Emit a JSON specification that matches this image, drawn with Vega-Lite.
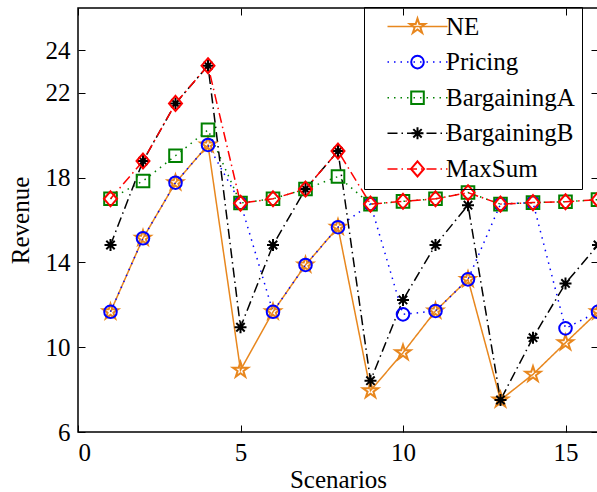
{
  "$schema": "https://vega.github.io/schema/vega-lite/v6.json",
  "width": 520,
  "height": 424,
  "autosize": {"type": "none"},
  "padding": {"left": 78, "top": 8, "right": 0, "bottom": 60},
  "background": "white",
  "config": {
    "font": "Liberation Serif, Times New Roman, serif",
    "view": {"stroke": "black", "strokeWidth": 1.5},
    "axis": {
      "grid": false,
      "domain": false,
      "tickColor": "black",
      "tickWidth": 1,
      "tickSize": -7,
      "labelFont": "Liberation Serif, Times New Roman, serif",
      "labelFontSize": 25,
      "labelColor": "black",
      "titleFont": "Liberation Serif, Times New Roman, serif",
      "titleFontSize": 25,
      "titleFontWeight": "normal",
      "titleColor": "black"
    },
    "legend": {
      "labelFont": "Liberation Serif, Times New Roman, serif",
      "labelFontSize": 25,
      "labelColor": "black"
    }
  },
  "data": {
    "values": [
      {"scenario": 1, "series": "NE", "revenue": 11.67},
      {"scenario": 2, "series": "NE", "revenue": 15.14},
      {"scenario": 3, "series": "NE", "revenue": 17.76},
      {"scenario": 4, "series": "NE", "revenue": 19.54},
      {"scenario": 5, "series": "NE", "revenue": 8.92},
      {"scenario": 6, "series": "NE", "revenue": 11.67},
      {"scenario": 7, "series": "NE", "revenue": 13.88},
      {"scenario": 8, "series": "NE", "revenue": 15.66},
      {"scenario": 9, "series": "NE", "revenue": 7.95},
      {"scenario": 10, "series": "NE", "revenue": 9.74},
      {"scenario": 11, "series": "NE", "revenue": 11.71},
      {"scenario": 12, "series": "NE", "revenue": 13.2},
      {"scenario": 13, "series": "NE", "revenue": 7.51},
      {"scenario": 14, "series": "NE", "revenue": 8.72},
      {"scenario": 15, "series": "NE", "revenue": 10.21},
      {"scenario": 16, "series": "NE", "revenue": 11.67},

      {"scenario": 1, "series": "Pricing", "revenue": 11.67},
      {"scenario": 2, "series": "Pricing", "revenue": 15.14},
      {"scenario": 3, "series": "Pricing", "revenue": 17.76},
      {"scenario": 4, "series": "Pricing", "revenue": 19.54},
      {"scenario": 5, "series": "Pricing", "revenue": 16.8},
      {"scenario": 6, "series": "Pricing", "revenue": 11.67},
      {"scenario": 7, "series": "Pricing", "revenue": 13.88},
      {"scenario": 8, "series": "Pricing", "revenue": 15.66},
      {"scenario": 9, "series": "Pricing", "revenue": 16.75},
      {"scenario": 10, "series": "Pricing", "revenue": 11.55},
      {"scenario": 11, "series": "Pricing", "revenue": 11.71},
      {"scenario": 12, "series": "Pricing", "revenue": 13.2},
      {"scenario": 13, "series": "Pricing", "revenue": 16.75},
      {"scenario": 14, "series": "Pricing", "revenue": 16.82},
      {"scenario": 15, "series": "Pricing", "revenue": 10.89},
      {"scenario": 16, "series": "Pricing", "revenue": 11.67},

      {"scenario": 1, "series": "BargainingA", "revenue": 17.0},
      {"scenario": 2, "series": "BargainingA", "revenue": 17.84},
      {"scenario": 3, "series": "BargainingA", "revenue": 19.03},
      {"scenario": 4, "series": "BargainingA", "revenue": 20.25},
      {"scenario": 5, "series": "BargainingA", "revenue": 16.8},
      {"scenario": 6, "series": "BargainingA", "revenue": 17.0},
      {"scenario": 7, "series": "BargainingA", "revenue": 17.46},
      {"scenario": 8, "series": "BargainingA", "revenue": 18.05},
      {"scenario": 9, "series": "BargainingA", "revenue": 16.75},
      {"scenario": 10, "series": "BargainingA", "revenue": 16.88},
      {"scenario": 11, "series": "BargainingA", "revenue": 17.0},
      {"scenario": 12, "series": "BargainingA", "revenue": 17.3},
      {"scenario": 13, "series": "BargainingA", "revenue": 16.75},
      {"scenario": 14, "series": "BargainingA", "revenue": 16.82},
      {"scenario": 15, "series": "BargainingA", "revenue": 16.86},
      {"scenario": 16, "series": "BargainingA", "revenue": 16.96},

      {"scenario": 1, "series": "BargainingB", "revenue": 14.82},
      {"scenario": 2, "series": "BargainingB", "revenue": 18.78},
      {"scenario": 3, "series": "BargainingB", "revenue": 21.5},
      {"scenario": 4, "series": "BargainingB", "revenue": 23.28},
      {"scenario": 5, "series": "BargainingB", "revenue": 10.94},
      {"scenario": 6, "series": "BargainingB", "revenue": 14.82},
      {"scenario": 7, "series": "BargainingB", "revenue": 17.46},
      {"scenario": 8, "series": "BargainingB", "revenue": 19.25},
      {"scenario": 9, "series": "BargainingB", "revenue": 8.42},
      {"scenario": 10, "series": "BargainingB", "revenue": 12.23},
      {"scenario": 11, "series": "BargainingB", "revenue": 14.82},
      {"scenario": 12, "series": "BargainingB", "revenue": 16.7},
      {"scenario": 13, "series": "BargainingB", "revenue": 7.51},
      {"scenario": 14, "series": "BargainingB", "revenue": 10.45},
      {"scenario": 15, "series": "BargainingB", "revenue": 13.01},
      {"scenario": 16, "series": "BargainingB", "revenue": 14.82},

      {"scenario": 1, "series": "MaxSum", "revenue": 17.0},
      {"scenario": 2, "series": "MaxSum", "revenue": 18.78},
      {"scenario": 3, "series": "MaxSum", "revenue": 21.5},
      {"scenario": 4, "series": "MaxSum", "revenue": 23.28},
      {"scenario": 5, "series": "MaxSum", "revenue": 16.79},
      {"scenario": 6, "series": "MaxSum", "revenue": 17.0},
      {"scenario": 7, "series": "MaxSum", "revenue": 17.46},
      {"scenario": 8, "series": "MaxSum", "revenue": 19.25},
      {"scenario": 9, "series": "MaxSum", "revenue": 16.75},
      {"scenario": 10, "series": "MaxSum", "revenue": 16.88},
      {"scenario": 11, "series": "MaxSum", "revenue": 17.0},
      {"scenario": 12, "series": "MaxSum", "revenue": 17.29},
      {"scenario": 13, "series": "MaxSum", "revenue": 16.75},
      {"scenario": 14, "series": "MaxSum", "revenue": 16.82},
      {"scenario": 15, "series": "MaxSum", "revenue": 16.86},
      {"scenario": 16, "series": "MaxSum", "revenue": 16.96}
    ]
  },
  "layer": [
    {
      "mark": {"type": "line", "strokeWidth": 1.5, "clip": true},
      "encoding": {
        "x": {
          "field": "scenario", "type": "quantitative",
          "scale": {"domain": [0, 16], "nice": false, "zero": false},
          "axis": {"orient": "bottom", "values": [0, 5, 10, 15], "labelPadding": 15, "title": "Scenarios", "titlePadding": 2}
        },
        "y": {
          "field": "revenue", "type": "quantitative",
          "scale": {"domain": [6, 26], "nice": false, "zero": false},
          "axis": {"orient": "left", "values": [6, 10, 14, 18, 22, 24], "labelPadding": 15, "title": "Revenue", "titlePadding": 12}
        },
        "order": {"field": "scenario"},
        "color": {
          "field": "series", "type": "nominal",
          "scale": {
            "domain": ["NE", "Pricing", "BargainingA", "BargainingB", "MaxSum"],
            "range": ["#E8871E", "#0000FF", "#008000", "#000000", "#FF0000"]
          },
          "legend": {
            "orient": "none", "legendX": 286, "legendY": -1, "title": null,
            "strokeColor": "black", "padding": 7, "rowPadding": 9.6,
            "symbolType": "M-30,0H30", "symbolSize": 4, "symbolStrokeWidth": 1.5,
            "symbolOffset": 34, "labelOffset": 16
          }
        },
        "strokeDash": {
          "field": "series", "type": "nominal",
          "scale": {
            "domain": ["NE", "Pricing", "BargainingA", "BargainingB", "MaxSum"],
            "range": [[1, 0], [1.5, 5], [1.5, 5], [10, 4, 1.5, 4], [10, 4, 1.5, 4]]
          },
          "legend": {
            "orient": "none", "legendX": 286, "legendY": -1, "title": null,
            "strokeColor": "black", "padding": 7, "rowPadding": 9.6,
            "symbolType": "M-30,0H30", "symbolSize": 4, "symbolStrokeWidth": 1.5,
            "symbolOffset": 34, "labelOffset": 16
          }
        }
      }
    },
    {
      "mark": {"type": "point", "filled": false, "size": 4, "strokeWidth": 2, "opacity": 1, "clip": true},
      "encoding": {
        "x": {
          "field": "scenario", "type": "quantitative",
          "scale": {"domain": [0, 16], "nice": false, "zero": false},
          "axis": {"orient": "top", "values": [0, 5, 10, 15], "labels": false, "title": null}
        },
        "y": {
          "field": "revenue", "type": "quantitative",
          "scale": {"domain": [6, 26], "nice": false, "zero": false},
          "axis": {"orient": "right", "values": [6, 10, 14, 18, 22, 24], "labels": false, "title": null}
        },
        "color": {
          "field": "series", "type": "nominal",
          "scale": {
            "domain": ["NE", "Pricing", "BargainingA", "BargainingB", "MaxSum"],
            "range": ["#E8871E", "#0000FF", "#008000", "#000000", "#FF0000"]
          },
          "legend": {
            "orient": "none", "legendX": 286, "legendY": -1, "title": null,
            "padding": 7, "rowPadding": 9.6,
            "symbolSize": 4, "symbolStrokeWidth": 2, "symbolOffset": 34,
            "labelExpr": "' '"
          }
        },
        "shape": {
          "field": "series", "type": "nominal",
          "scale": {
            "domain": ["NE", "Pricing", "BargainingA", "BargainingB", "MaxSum"],
            "range": [
              "M0,-8L1.8,-2.47L7.6,-2.47L2.9,0.94L4.7,6.47L0,3.06L-4.7,6.47L-2.9,0.94L-7.6,-2.47L-1.8,-2.47Z",
              "M-6.3,0A6.3,6.3 0 1,0 6.3,0A6.3,6.3 0 1,0 -6.3,0Z",
              "M-6.3,-6.3H6.3V6.3H-6.3Z",
              "M-6,0H6M0,-6V6M-4.2,-4.2L4.2,4.2M-4.2,4.2L4.2,-4.2",
              "M0,-7.5L6.5,0L0,7.5L-6.5,0Z"
            ]
          },
          "legend": {
            "orient": "none", "legendX": 286, "legendY": -1, "title": null,
            "padding": 7, "rowPadding": 9.6,
            "symbolSize": 4, "symbolStrokeWidth": 2, "symbolOffset": 34,
            "labelExpr": "' '"
          }
        }
      }
    }
  ],
  "resolve": {
    "scale": {"color": "independent", "shape": "independent", "strokeDash": "independent"},
    "axis": {"x": "independent", "y": "independent"},
    "legend": {"color": "independent", "shape": "independent", "strokeDash": "independent"}
  }
}
